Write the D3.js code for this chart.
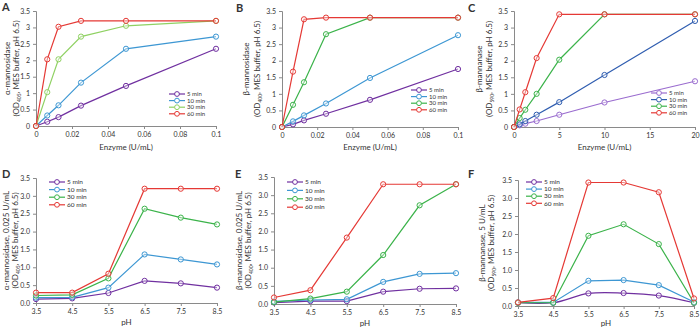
<!DOCTYPE html>
<html>
<head>
<meta charset="utf-8">
<script src="https://cdn.jsdelivr.net/npm/d3@7"></script>
<style>
  body { margin: 0; background: #fff; }
  svg text { font-family: Lato, "Open Sans", sans-serif; fill: #333; }
</style>
</head>
<body>
<script>
var svgWidth = 700;
var svgHeight = 333;

// Series names (legend)
var seriesNames = ["5 min", "10 min", "30 min", "60 min"];

// Top row: enzyme concentration
var enzymeAB = [0, 0.00625, 0.0125, 0.025, 0.05, 0.1];
var enzymeC = [0, 0.625, 1.25, 2.5, 5, 10, 20];
var xTicksAB = [0, 0.02, 0.04, 0.06, 0.08, 0.1];
var xTicksC = [0, 5, 10, 15, 20];
var yTicks = [0, 0.5, 1, 1.5, 2, 2.5, 3, 3.5];

var aValues = [
  [0, 0.13, 0.27, 0.62, 1.22, 2.35],
  [0, 0.32, 0.63, 1.32, 2.35, 2.72],
  [0, 1.03, 2.03, 2.72, 3.05, 3.2],
  [0, 2.03, 3.02, 3.2, 3.2, 3.2]
];
var bValues = [
  [0, 0.08, 0.2, 0.4, 0.82, 1.75],
  [0, 0.17, 0.35, 0.71, 1.48, 2.77],
  [0, 0.67, 1.35, 2.8, 3.3, 3.3],
  [0, 1.67, 3.25, 3.3, 3.3, 3.3]
];
var cValues = [
  [0, 0.05, 0.1, 0.18, 0.37, 0.74, 1.38],
  [0, 0.08, 0.18, 0.37, 0.75, 1.57, 3.2],
  [0, 0.27, 0.52, 1.0, 2.03, 3.4, 3.4],
  [0, 0.53, 1.05, 2.08, 3.4, 3.4, 3.4]
];

// Bottom row: pH
var phValues = [3.5, 4.5, 5.5, 6.5, 7.5, 8.5];
var dValues = [
  [0.11, 0.13, 0.28, 0.62, 0.55, 0.43],
  [0.15, 0.16, 0.43, 1.36, 1.22, 1.08],
  [0.21, 0.23, 0.69, 2.64, 2.39, 2.2],
  [0.29, 0.29, 0.82, 3.2, 3.2, 3.2]
];
var eValues = [
  [0.04, 0.08, 0.08, 0.34, 0.42, 0.43],
  [0.07, 0.11, 0.13, 0.61, 0.83, 0.85],
  [0.05, 0.15, 0.34, 1.35, 2.72, 3.3],
  [0.18, 0.38, 1.83, 3.3, 3.3, 3.3]
];
var fValues = [
  [0.09, 0.09, 0.35, 0.36, 0.29, 0.09],
  [0.1, 0.1, 0.7, 0.72, 0.58, 0.11],
  [0.09, 0.09, 1.95, 2.27, 1.72, 0.09],
  [0.1, 0.22, 3.43, 3.43, 3.16, 0.21]
];

var colorsStd = ["#7030a0", "#3d97d3", "#3bb34a", "#e53935"];
var colorsA = ["#7030a0", "#3d97d3", "#8fd162", "#e53935"];
var colorsC = ["#9a6ccf", "#2f5db0", "#3bb34a", "#e53935"];

var svg = d3.select("body")
  .append("svg")
  .attr("width", svgWidth)
  .attr("height", svgHeight);

function drawPanel(p) {
  var g = svg.append("g");

  var x = d3.scaleLinear().domain(p.xDomain).range(p.xRange);
  var y = d3.scaleLinear().domain([0, 3.5]).range(p.yRange);

  // axes
  var xAxis = g.append("g")
    .attr("transform", `translate(0, ${p.yRange[0]})`)
    .call(d3.axisBottom(x).tickValues(p.xTicks).tickSize(3).tickFormat(p.xFormat));
  var yAxis = g.append("g")
    .attr("transform", `translate(${p.xRange[0]}, 0)`)
    .call(d3.axisLeft(y).tickValues(yTicks).tickSize(3).tickFormat(p.yFormat));

  [xAxis, yAxis].forEach(function(a) {
    a.select(".domain").attr("stroke", "#8a8a8a");
    a.selectAll(".tick line").attr("stroke", "#8a8a8a");
    a.selectAll(".tick text").style("font-size", "7px").attr("fill", "#333");
  });
  xAxis.selectAll(".tick text").attr("y", 6);
  yAxis.selectAll(".tick text").attr("x", -6);

  // lines and markers
  var line = d3.line()
    .x(function(d) { return x(d[0]); })
    .y(function(d) { return y(d[1]); });

  p.values.forEach(function(vals, i) {
    var pts = vals.map(function(v, j) { return [p.xs[j], v]; });
    var curve = (p.smooth && i === 0) ? d3.curveCatmullRom : d3.curveLinear;
    g.append("path")
      .datum(pts)
      .attr("fill", "none")
      .attr("stroke", p.colors[i])
      .attr("stroke-width", 1.2)
      .attr("d", line.curve(curve));
    g.selectAll(".pt" + i)
      .data(pts)
      .enter()
      .append("circle")
      .attr("cx", function(d) { return x(d[0]); })
      .attr("cy", function(d) { return y(d[1]); })
      .attr("r", 2.6)
      .attr("fill", "#fff")
      .attr("fill-opacity", 0.4)
      .attr("stroke", p.colors[i])
      .attr("stroke-width", 1);
  });

  // legend
  var lg = g.append("g").attr("transform", `translate(${p.legend[0]}, ${p.legend[1]})`);
  seriesNames.forEach(function(name, i) {
    var row = lg.append("g").attr("transform", `translate(0, ${i * p.legendStep})`);
    row.append("line")
      .attr("x1", 0).attr("x2", 16)
      .attr("stroke", p.colors[i]).attr("stroke-width", 1.2);
    row.append("circle")
      .attr("cx", 8).attr("r", 2.4)
      .attr("fill", "#fff").attr("stroke", p.colors[i]).attr("stroke-width", 1);
    row.append("text")
      .attr("x", 18).attr("dy", "0.35em")
      .style("font-size", p.legendFont + "px")
      .text(name);
  });

  // x title
  g.append("text")
    .attr("x", (p.xRange[0] + p.xRange[1]) / 2)
    .attr("y", p.xTitleY)
    .attr("text-anchor", "middle")
    .style("font-size", "8px")
    .text(p.xTitle);

  // y title (two lines)
  var cy = (p.yRange[0] + p.yRange[1]) / 2;
  g.append("text")
    .attr("transform", `translate(${p.yTitleX[0]}, ${cy}) rotate(-90)`)
    .attr("text-anchor", "middle")
    .attr("dy", "0.35em")
    .style("font-size", "8px")
    .text(p.yTitle1);
  var t2 = g.append("text")
    .attr("transform", `translate(${p.yTitleX[1]}, ${cy}) rotate(-90)`)
    .attr("text-anchor", "middle")
    .attr("dy", "0.35em")
    .style("font-size", "8px");
  t2.append("tspan").text("(OD");
  t2.append("tspan").attr("dy", "2").style("font-size", "5px").text(p.od);
  t2.append("tspan").attr("dy", "-2").text(", MES buffer, pH 6.5)");

  // panel letter
  g.append("text")
    .attr("x", p.letterPos[0])
    .attr("y", p.letterPos[1])
    .style("font-size", "11px")
    .style("font-weight", "bold")
    .attr("fill", "#111")
    .text(p.letter);
}

var fmtTop = function(d) { return String(d); };
var fmtBottom = d3.format(".1f");

var panels = [
  { letter: "A", letterPos: [2, 11], xs: enzymeAB, values: aValues, colors: colorsA,
    xDomain: [0, 0.1], xRange: [36, 216], yRange: [126, 11], xTicks: xTicksAB,
    xFormat: fmtTop, yFormat: fmtTop, xTitle: "Enzyme (U/mL)", xTitleY: 150,
    yTitle1: "α-mannosidase", od: "405", yTitleX: [7, 16], legend: [169, 94], legendStep: 6.6, legendFont: 6 },
  { letter: "B", letterPos: [236, 12], xs: enzymeAB, values: bValues, colors: colorsStd,
    xDomain: [0, 0.1], xRange: [282, 458], yRange: [127, 11], xTicks: xTicksAB,
    xFormat: fmtTop, yFormat: fmtTop, xTitle: "Enzyme (U/mL)", xTitleY: 150,
    yTitle1: "β-mannosidase", od: "400", yTitleX: [246, 257], legend: [411, 90], legendStep: 6.6, legendFont: 6 },
  { letter: "C", letterPos: [468, 12], xs: enzymeC, values: cValues, colors: colorsC,
    xDomain: [0, 20], xRange: [514, 695], yRange: [127, 11], xTicks: xTicksC,
    xFormat: fmtTop, yFormat: fmtTop, xTitle: "Enzyme (U/mL)", xTitleY: 150,
    yTitle1: "β-mannanase", od: "590", yTitleX: [479, 489], legend: [651, 93], legendStep: 6.6, legendFont: 6 },
  { letter: "D", letterPos: [2, 178], xs: phValues, values: dValues, colors: colorsStd,
    xDomain: [3.5, 8.5], xRange: [36, 217], yRange: [303, 178], xTicks: phValues,
    xFormat: fmtBottom, yFormat: fmtBottom, xTitle: "pH", xTitleY: 325,
    yTitle1: "α-mannosidase, 0.025 U/mL", od: "405", yTitleX: [6, 15], legend: [49, 182], legendStep: 7.6, legendFont: 6.5 },
  { letter: "E", letterPos: [235, 178], xs: phValues, values: eValues, colors: colorsStd,
    xDomain: [3.5, 8.5], xRange: [274, 456], yRange: [304, 177], xTicks: phValues,
    xFormat: fmtBottom, yFormat: fmtBottom, xTitle: "pH", xTitleY: 326,
    yTitle1: "β-mannosidase, 0.025 U/mL", od: "400", yTitleX: [239, 248], legend: [287, 182], legendStep: 8.4, legendFont: 6.5 },
  { letter: "F", letterPos: [468, 178], xs: phValues, values: fValues, colors: colorsStd, smooth: true,
    xDomain: [3.5, 8.5], xRange: [518, 694], yRange: [306, 180], xTicks: phValues,
    xFormat: fmtBottom, yFormat: fmtBottom, xTitle: "pH", xTitleY: 326,
    yTitle1: "β-mannanase, 5 U/mL", od: "590", yTitleX: [482, 491], legend: [526, 182], legendStep: 7.1, legendFont: 6.5 }
];

panels.forEach(drawPanel);
</script>
</body>
</html>
